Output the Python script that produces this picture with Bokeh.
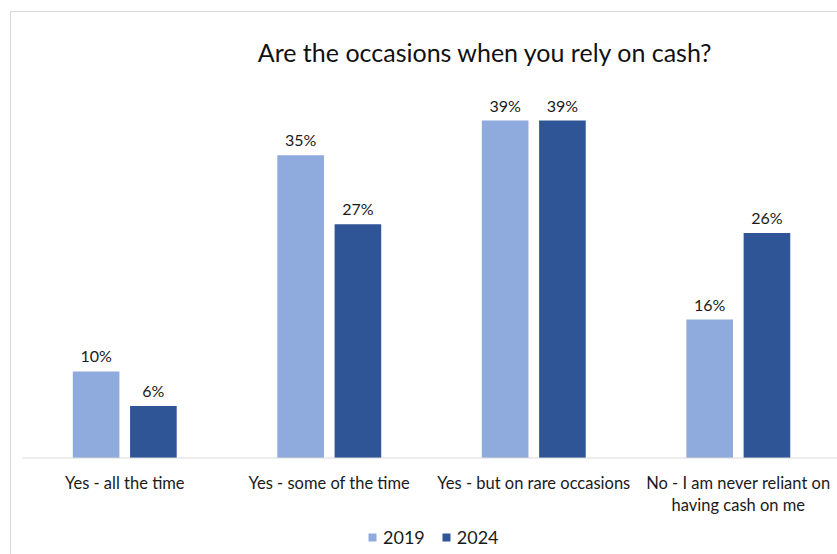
from bokeh.plotting import figure
from bokeh.models import (ColumnDataSource, Range1d, Legend, LegendItem, Label, Span,
                          InlineStyleSheet)
from bokeh.transform import dodge
from bokeh.embed import file_html
from bokeh.resources import INLINE
from bokeh.core.properties import value

categories = ["Yes - all the time", "Yes - some of the time", "Yes - but on rare occasions",
              "No - I am never reliant on\nhaving cash on me"]
series_names = ["2019", "2024"]
values_2019 = [10, 35, 39, 16]
values_2024 = [6, 27, 39, 26]
title_text = "Are the occasions when you rely on cash?"

FONT = "Lato"
C2019 = "#8FAADC"
C2024 = "#2F5597"
TXT = "#1a1a1a"

pos = list(range(len(categories)))
src = ColumnDataSource(data=dict(
    x=pos,
    zero=[0] * len(pos),
    cat=categories,
    v2019=values_2019,
    v2024=values_2024,
    l2019=[f"{v}%" for v in values_2019],
    l2024=[f"{v}%" for v in values_2024],
))

p = figure(width=837, height=554, output_backend="svg", toolbar_location=None,
           x_range=Range1d(-0.5, 3.485), y_range=Range1d(-11.15, 51.6),
           min_border_left=22, min_border_right=0, min_border_top=11, min_border_bottom=0)
p.outline_line_color = None
p.grid.visible = False
p.xaxis.visible = False
p.yaxis.visible = False
p.background_fill_color = None
p.border_fill_color = "white"

# category axis baseline
p.add_layout(Span(location=0, dimension="width", line_color="#D9D9D9", line_width=1))

r1 = p.vbar(x=dodge("x", -0.14), top="v2019", bottom=0, width=0.228, source=src,
            fill_color=C2019, line_color=None)
r2 = p.vbar(x=dodge("x", 0.14), top="v2024", bottom=0, width=0.228, source=src,
            fill_color=C2024, line_color=None)

for col, lab, off in (("v2019", "l2019", -0.14), ("v2024", "l2024", 0.14)):
    p.text(x=dodge("x", off), y=col, text=lab, source=src, y_offset=-6,
           text_align="center", text_baseline="bottom",
           text_font=value(FONT), text_font_size="16px", text_color=TXT)

# category labels under the baseline
p.text(x="x", y="zero", text="cat", source=src, y_offset=15,
       text_align="center", text_baseline="top", text_line_height=1.1,
       text_font=value(FONT), text_font_size="16.5px", text_color=TXT)

p.add_layout(Label(x=1.764, y=46.9, text=title_text, text_align="center",
                   text_baseline="alphabetic", text_font=FONT, text_font_size="25px",
                   text_color="#111111"))

legend = Legend(items=[LegendItem(label=series_names[0], renderers=[r1]),
                       LegendItem(label=series_names[1], renderers=[r2])],
                orientation="horizontal", location=(345, 6),
                glyph_width=10, glyph_height=10, label_standoff=6, spacing=16,
                padding=0, margin=0, border_line_color=None, background_fill_alpha=0,
                label_text_font=FONT, label_text_font_size="18px", label_text_color=TXT)
p.add_layout(legend)

p.stylesheets = [InlineStyleSheet(css=""":host::after { content: ''; position: absolute;
  left: 10px; top: 11px; right: 0px; bottom: 0px; border-left: 1px solid #D9D9D9;
  border-top: 1px solid #D9D9D9; pointer-events: none; }""")]

open("out.html", "w").write(file_html(p, INLINE))
